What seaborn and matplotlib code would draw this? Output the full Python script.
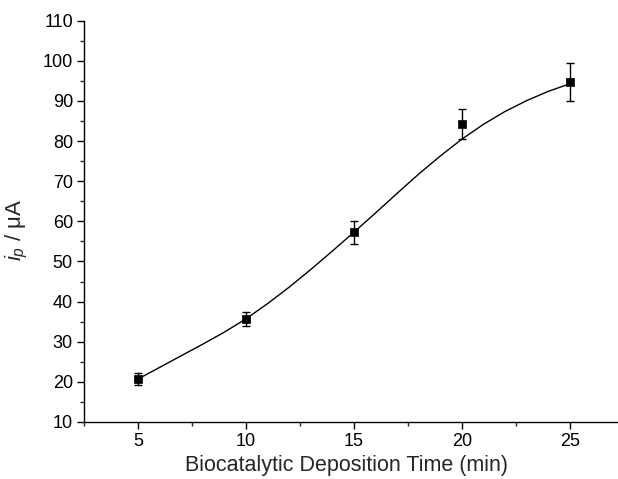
import matplotlib
matplotlib.use("Agg")
import matplotlib.pyplot as plt
import seaborn as sns
import pandas as pd
from matplotlib.ticker import MultipleLocator

# measured points
time_min = [5, 10, 15, 20, 25]
current_uA = [20.7, 35.6, 57.3, 84.2, 94.7]
error_uA = [1.5, 1.8, 2.9, 3.8, 4.7]

# fitted curve
curve_x = [5, 6, 7, 8, 9, 10, 11, 12, 13, 14, 15, 16, 17, 18, 19, 20, 21, 22, 23, 24, 25]
curve_y = [20.7, 23.6, 26.5, 29.4, 32.4, 35.7, 39.5, 43.6, 48.0, 52.6, 57.3, 62.1, 67.0, 71.8, 76.3, 80.5, 84.2, 87.4, 90.1, 92.4, 94.3]

x_label = "Biocatalytic Deposition Time (min)"
y_label = r"$i_p$ / μA"

sns.set_style("ticks")
plt.rcParams["font.family"] = ["Liberation Sans", "DejaVu Sans"]
plt.rcParams["mathtext.fontset"] = "custom"
plt.rcParams["mathtext.rm"] = "Liberation Sans"
plt.rcParams["mathtext.it"] = "Liberation Sans:italic"

fig = plt.figure(figsize=(6.18, 4.79), dpi=100)
ax = fig.add_axes([0.1359, 0.119, 0.8738, 0.8378])

pts = pd.DataFrame({"t": time_min, "i": current_uA, "e": error_uA})
fit = pd.DataFrame({"t": curve_x, "i": curve_y})

sns.lineplot(data=fit, x="t", y="i", ax=ax, color="black", linewidth=1.0)
ax.errorbar(pts["t"], pts["i"], yerr=pts["e"], fmt="none", ecolor="black",
            elinewidth=1.0, capsize=3, capthick=1.0, zorder=3)
sns.scatterplot(data=pts, x="t", y="i", ax=ax, marker="s", color="black",
                s=40, edgecolor="black", zorder=4)

ax.set_xlim(2.5, 27.5)
ax.set_ylim(10, 110)
ax.xaxis.set_major_locator(MultipleLocator(5))
ax.xaxis.set_minor_locator(MultipleLocator(2.5))
ax.yaxis.set_major_locator(MultipleLocator(10))
ax.yaxis.set_minor_locator(MultipleLocator(5))
ax.tick_params(which="major", direction="out", length=5, width=1, labelsize=13,
               colors="black", pad=3)
ax.tick_params(which="minor", direction="out", length=3, width=1)
ax.set_xticks([5, 10, 15, 20, 25])

sns.despine(ax=ax)
for s in ["left", "bottom"]:
    ax.spines[s].set_linewidth(1.0)
    ax.spines[s].set_color("black")

ax.set_xlabel(x_label, fontsize=15.5)
ax.set_ylabel(y_label, fontsize=16)
ax.xaxis.set_label_coords(0.486, -0.083)
ax.yaxis.set_label_coords(-0.1, 0.48)

fig.savefig("out.png", dpi=100)
